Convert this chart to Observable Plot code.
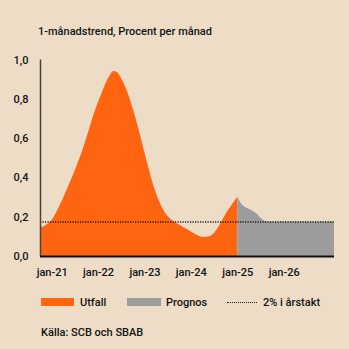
<!DOCTYPE html>
<html>
<head>
<meta charset="utf-8">
<script src="https://cdn.jsdelivr.net/npm/d3@7"></script>
<script src="https://cdn.jsdelivr.net/npm/@observablehq/plot@0.6"></script>
<style>
  html, body { margin: 0; padding: 0; background: #eddcc6; }
  #wrap { position: relative; width: 349px; height: 349px; background: #eddcc6; overflow: hidden;
          font-family: Roboto, "Noto Sans", sans-serif; color: #141414; font-size: 11px; font-weight: 500; }
  .abs { position: absolute; white-space: nowrap; line-height: 14px; }
  #chart { position: absolute; left: 0; top: 45px; }
  .sw { position: absolute; height: 8px; }
  .dots { position: absolute; height: 0; border-top: 1.5px dotted #1c1c1c; }
</style>
</head>
<body>
<div id="wrap">
  <div class="abs" id="title" style="left:38px; top:25px;"></div>
  <div id="chart"></div>
  <div id="legend"></div>
  <div class="abs" id="caption" style="left:41px; top:326px;"></div>
</div>
<script>
// ---- data ----
const titleText = "1-månadstrend, Procent per månad";
const captionText = "Källa: SCB och SBAB";
const seriesNames = ["Utfall", "Prognos"];
const targetName = "2% i årstakt";
const seriesColors = ["#ff6411", "#9c9c9c"];

const utfallStart = "2020-10-01";
// monthly, Oct 2020 – Jan 2025
const utfallValues = [
  0.147, 0.153, 0.166,
  0.185, 0.217, 0.255, 0.297, 0.342, 0.388, 0.436, 0.487, 0.542, 0.603, 0.668, 0.73,
  0.785, 0.835, 0.88, 0.918, 0.942, 0.935, 0.905, 0.865, 0.812, 0.75, 0.68, 0.605,
  0.525, 0.45, 0.383, 0.322, 0.272, 0.232, 0.203, 0.185, 0.172, 0.16, 0.148, 0.137,
  0.125, 0.113, 0.103, 0.098, 0.098, 0.103, 0.117, 0.145, 0.18, 0.215, 0.245, 0.273,
  0.30
];
const prognosStart = "2025-01-01";
// monthly, Jan 2025 – Feb 2027
const prognosValues = [
  0.30, 0.265, 0.25, 0.24, 0.23, 0.216, 0.195, 0.18, 0.176, 0.176, 0.176, 0.176,
  0.176, 0.176, 0.176, 0.176, 0.176, 0.176, 0.176, 0.176, 0.176, 0.176, 0.176, 0.176,
  0.176, 0.176
];
const targetValue = 0.176;
const yTicks = [0, 0.2, 0.4, 0.6, 0.8, 1.0];
const xTickLabels = ["jan-21", "jan-22", "jan-23", "jan-24", "jan-25", "jan-26"];
const xTickDates = ["2021-01-01", "2022-01-01", "2023-01-01", "2024-01-01", "2025-01-01", "2026-01-01"];

// ---- build tables ----
function monthly(start, values) {
  const s = new Date(start + "T00:00:00Z");
  return values.map((v, i) => ({date: d3.utcMonth.offset(s, i), value: v}));
}
const utfall = monthly(utfallStart, utfallValues);
const prognos = monthly(prognosStart, prognosValues);
const xStart = utfall[0].date;
const xEnd = prognos[prognos.length - 1].date;
const ticks = xTickDates.map(d => new Date(d + "T00:00:00Z"));
const labelOf = new Map(ticks.map((t, i) => [+t, xTickLabels[i]]));

document.getElementById("title").textContent = titleText;
document.getElementById("caption").textContent = captionText;

const chart = Plot.plot({
  width: 349,
  height: 240,
  marginLeft: 40,
  marginRight: 15,
  marginTop: 14.5,
  marginBottom: 29,
  style: {background: "transparent", fontFamily: "Roboto, 'Noto Sans', sans-serif", fontSize: "11px", fontWeight: 500, color: "#141414", overflow: "visible"},
  x: {type: "utc", domain: [xStart, xEnd]},
  y: {domain: [0, 1]},
  marks: [
    Plot.areaY(utfall, {x: "date", y: "value", fill: seriesColors[0], curve: "monotone-x"}),
    Plot.areaY(prognos, {x: "date", y: "value", fill: seriesColors[1], curve: "linear"}),
    Plot.ruleY([targetValue], {stroke: "#1c1c1c", strokeWidth: 1.5, strokeDasharray: "1.2,1.3"}),
    Plot.ruleX([xStart], {y1: 0, y2: 1, stroke: "#4a423b", strokeWidth: 1.5}),
    Plot.ruleY([0], {stroke: "#111", strokeWidth: 2}),
    Plot.axisY({ticks: yTicks, tickSize: 0, tickPadding: 12, label: null,
      tickFormat: d => d.toFixed(1).replace(".", ",")}),
    Plot.axisX({ticks: ticks, tickSize: 0, tickPadding: 12, label: null,
      tickFormat: d => labelOf.get(+d)})
  ]
});
document.getElementById("chart").appendChild(chart);

// ---- legend ----
const legend = document.getElementById("legend");
const items = [
  {type: "sw", color: seriesColors[0], left: 41, w: 33, text: seriesNames[0], tl: 80},
  {type: "sw", color: seriesColors[1], left: 127, w: 34, text: seriesNames[1], tl: 166},
  {type: "dots", left: 227, w: 30, text: targetName, tl: 263}
];
for (const it of items) {
  const m = document.createElement("div");
  if (it.type === "sw") {
    m.className = "sw";
    m.style.cssText = `left:${it.left}px; top:298px; width:${it.w}px; background:${it.color};`;
  } else {
    m.className = "dots";
    m.style.cssText = `left:${it.left}px; top:302px; width:${it.w}px;`;
  }
  legend.appendChild(m);
  const t = document.createElement("div");
  t.className = "abs";
  t.style.cssText = `left:${it.tl}px; top:296px;`;
  t.textContent = it.text;
  legend.appendChild(t);
}
</script>
</body>
</html>
